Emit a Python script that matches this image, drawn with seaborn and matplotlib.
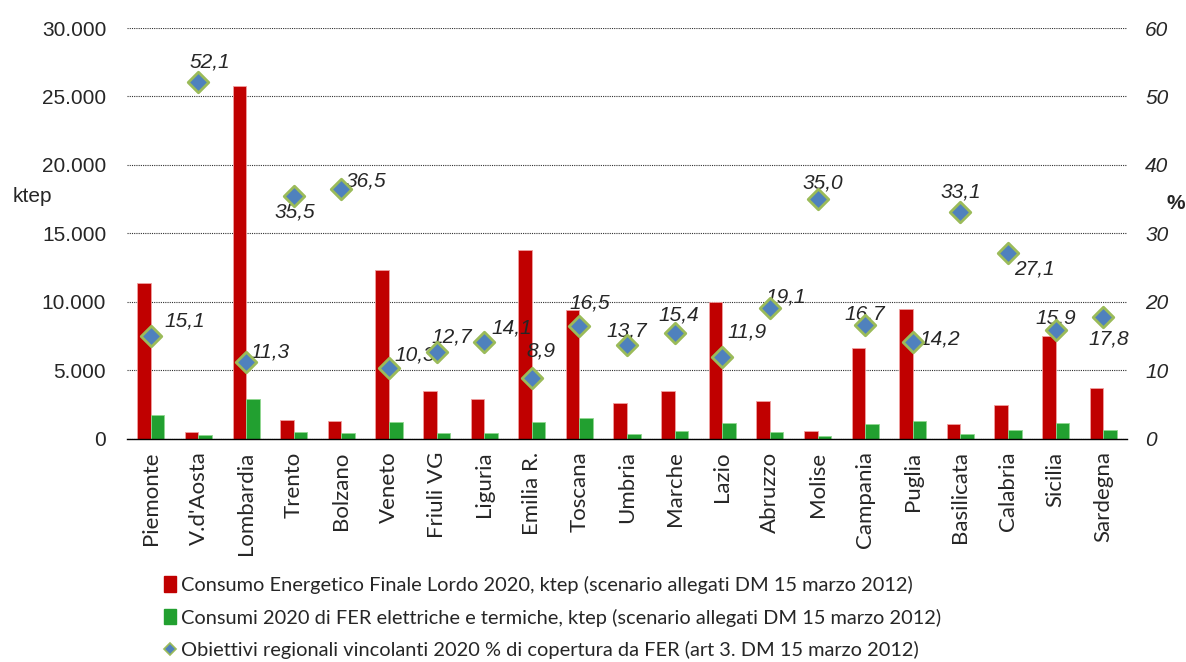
import numpy as np
import pandas as pd
import seaborn as sns
import matplotlib.pyplot as plt
from matplotlib.lines import Line2D
from matplotlib.patches import Patch
from matplotlib.ticker import FuncFormatter, FixedLocator

regioni = ["Piemonte", "V.d'Aosta", "Lombardia", "Trento", "Bolzano", "Veneto",
           "Friuli VG", "Liguria", "Emilia R.", "Toscana", "Umbria", "Marche",
           "Lazio", "Abruzzo", "Molise", "Campania", "Puglia", "Basilicata",
           "Calabria", "Sicilia", "Sardegna"]
# ktep
consumo_cfl = [11400, 510, 25800, 1390, 1310, 12330, 3480, 2920, 13830, 9420,
               2630, 3500, 9980, 2750, 610, 6640, 9490, 1120, 2460, 7520, 3720]
consumo_fer = [1750, 290, 2920, 490, 460, 1265, 462, 414, 1240, 1557,
               365, 560, 1190, 510, 195, 1095, 1340, 365, 657, 1192, 657]
# %
obiettivi = [15.1, 52.1, 11.3, 35.5, 36.5, 10.3, 12.7, 14.1, 8.9, 16.5,
             13.7, 15.4, 11.9, 19.1, 35.0, 16.7, 14.2, 33.1, 27.1, 15.9, 17.8]

lab_cfl = "Consumo Energetico Finale Lordo 2020, ktep (scenario allegati DM 15 marzo 2012)"
lab_fer = "Consumi 2020 di FER elettriche e termiche, ktep (scenario allegati DM 15 marzo 2012)"
lab_obj = "Obiettivi regionali vincolanti 2020 % di copertura da FER (art 3. DM 15 marzo 2012)"

# offset etichette (px) rispetto al marker
off = [(34, 15), (11, 20), (24, 10), (1, -16), (25, 8), (26, 13), (15, 15), (28, 14),
       (9, 27), (10, 23), (0, 14), (4, 18), (25, 25), (16, 11), (5, 16), (0, 11),
       (27, 3), (0, 20), (26, -16), (0, 12), (6, -22)]

df = pd.DataFrame({"regione": regioni * 2,
                   "valore": consumo_cfl + consumo_fer,
                   "serie": [lab_cfl] * len(regioni) + [lab_fer] * len(regioni)})

sns.set_style("white")
plt.rcParams['font.family'] = ['Liberation Sans', 'DejaVu Sans']
cat_font = ['Lato', 'DejaVu Sans']

red = "#C00000"
green = "#22A030"
fig, ax = plt.subplots(figsize=(11.86, 6.62), dpi=100)
fig.subplots_adjust(left=0.1071, right=0.9503, top=0.9577, bottom=0.3369)

sns.barplot(data=df, x="regione", y="valore", hue="serie", palette=[red, green],
            width=0.57, gap=0, saturation=1, ax=ax, legend=False,
            edgecolor="#F0A0A0", linewidth=0.6)
for p in ax.patches[len(regioni):]:
    p.set_edgecolor("#90D890")

ax.set_ylim(0, 30000)
ax.set_xlim(-0.5, len(regioni) - 0.5)
ax.set_yticks(np.arange(0, 30001, 5000))
ax.yaxis.set_major_formatter(FuncFormatter(lambda v, p: f"{int(v):,}".replace(",", ".")))
ax.grid(axis="y", color="#303030", linestyle=(0, (1, 1)), linewidth=0.8)
ax.set_axisbelow(True)
for s in ["top", "right", "left"]:
    ax.spines[s].set_visible(False)
ax.spines["bottom"].set_color("black")
ax.spines["bottom"].set_linewidth(1)
ax.tick_params(axis="y", length=0, labelsize=15, pad=15)
ax.set_xlabel("")
ax.set_ylabel("")
ax.set_xticks(np.arange(len(regioni)))
ax.set_xticklabels(regioni, rotation=90, fontsize=16, family=cat_font)
ax.tick_params(axis="x", which="major", length=0, pad=9)
ax.xaxis.set_minor_locator(FixedLocator(np.arange(-0.5, len(regioni), 1)))
ax.tick_params(axis="x", which="minor", length=6, width=1, color="#404040", direction="out")

ax2 = ax.twinx()
sns.scatterplot(x=np.arange(len(regioni)), y=obiettivi, marker="D", s=110,
                color="#4F81BD", edgecolor="#9BBB59", linewidth=2, ax=ax2, zorder=5)
ax2.set_ylim(0, 60)
ax2.set_yticks(np.arange(0, 61, 10))
for s in ["top", "right", "left", "bottom"]:
    ax2.spines[s].set_visible(False)
ax2.tick_params(axis="y", length=0, labelsize=15, pad=13)
for t in ax2.get_yticklabels():
    t.set_fontstyle("italic")
ax2.grid(False)

for i, v in enumerate(obiettivi):
    ax2.annotate(f"{v:.1f}".replace(".", ","), (i, v),
                 xytext=(off[i][0] * 0.72, off[i][1] * 0.72), textcoords="offset points",
                 ha="center", va="center", fontsize=15, fontstyle="italic")

fig.text(32 / 1186, 1 - 197 / 662, "ktep", fontsize=15, ha="center", va="center")
fig.text(1176 / 1186, 1 - 203 / 662, "%", fontsize=15, fontweight="bold", ha="center", va="center")

handles = [Patch(facecolor=red, edgecolor=red),
           Patch(facecolor=green, edgecolor=green),
           Line2D([], [], marker="D", linestyle="none", markersize=6,
                  markerfacecolor="#4F81BD", markeredgecolor="#9BBB59", markeredgewidth=1.2)]
fig.legend(handles, [lab_cfl, lab_fer, lab_obj], loc="upper left",
           bbox_to_anchor=(146 / 1186, 1 - 558 / 662), frameon=False,
           prop={"family": cat_font, "size": 14.4},
           handlelength=0.6, handleheight=0.8, handletextpad=0.25, labelspacing=0.72)

fig.savefig("out.png", dpi=100)
